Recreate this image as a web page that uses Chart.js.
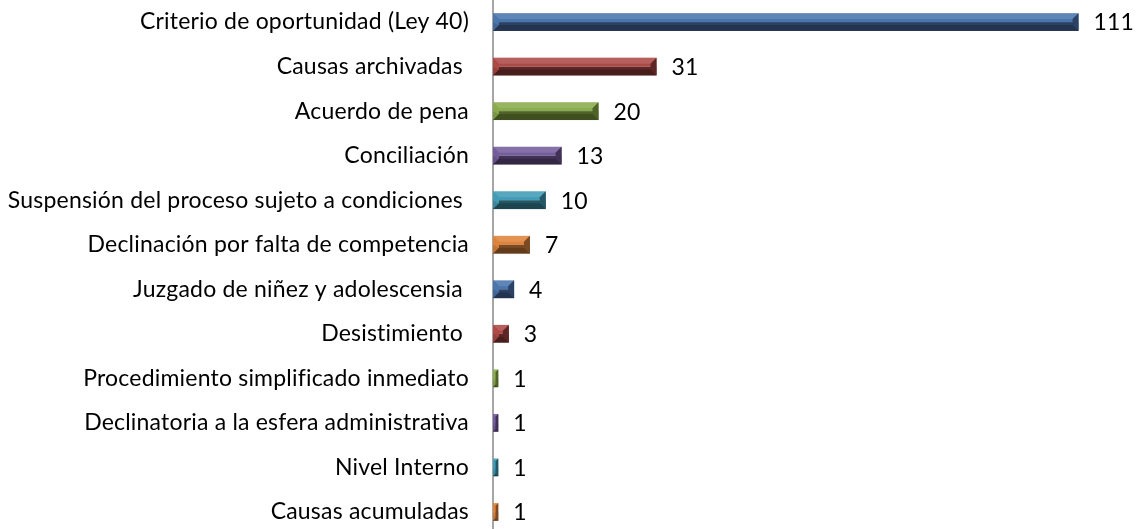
<!DOCTYPE html>
<html>
<head>
<meta charset="utf-8">
<script src="https://cdn.jsdelivr.net/npm/chart.js@4"></script>
<style>
  html, body { margin: 0; padding: 0; background: #fff; overflow: hidden; }
  #wrap { width: 1140px; height: 562px; position: relative; margin-top: -14px; }
</style>
</head>
<body>
<div id="wrap"><canvas id="chart"></canvas></div>
<script>
// categories, top to bottom
var categories = [
  "Criterio de oportunidad (Ley 40)",
  "Causas archivadas ",
  "Acuerdo de pena",
  "Conciliación",
  "Suspensión del proceso sujeto a condiciones ",
  "Declinación por falta de competencia",
  "Juzgado de niñez y adolescensia ",
  "Desistimiento ",
  "Procedimiento simplificado inmediato",
  "Declinatoria a la esfera administrativa",
  "Nivel Interno",
  "Causas acumuladas"
];
var counts = [111, 31, 20, 13, 10, 7, 4, 3, 1, 1, 1, 1];

// office palette, repeating: [top face, bottom face]
var topColors = ["#4A76AE", "#AE4946", "#8AAB4D", "#755D9B", "#409DB5", "#DF833B"];
var lowColors = ["#2C4264", "#5B2625", "#4F6328", "#403155", "#235765", "#7B4A22"];

var FONT = "Lato, 'Open Sans', sans-serif";
var FSIZE = 23;

function pick(arr, i){ return arr[i % arr.length]; }

// a tiny letter spacing keeps Lato from using its ti/fi ligatures
var spacingPlugin = {
  id: "spacing",
  beforeDraw: function(chart){
    chart.ctx.letterSpacing = "0.2px";
  }
};

// paints the bevelled bars over the library's bar rectangles
var bevelPlugin = {
  id: "bevel",
  afterDatasetsDraw: function(chart){
    var ctx = chart.ctx;
    var meta = chart.getDatasetMeta(0);
    meta.data.forEach(function(bar, i){
      var p = bar.getProps(["x", "y", "base", "height"], true);
      var x0 = p.base, x1 = p.x;
      var y0 = p.y - p.height / 2, y1 = p.y + p.height / 2;
      var w = x1 - x0, h = y1 - y0;
      var b = Math.min(6, h / 3, w / 2);
      var c1 = pick(topColors, i), c2 = pick(lowColors, i);
      var mid = y0 + h / 2;
      ctx.save();
      // faces
      ctx.fillStyle = c1;
      ctx.fillRect(x0, y0, w, mid - y0);
      ctx.fillStyle = c2;
      ctx.fillRect(x0, mid, w, y1 - mid);
      // top bevel (light)
      ctx.fillStyle = "rgba(255,255,255,0.12)";
      ctx.beginPath();
      ctx.moveTo(x0, y0); ctx.lineTo(x1, y0); ctx.lineTo(x1 - b, y0 + b); ctx.lineTo(x0 + b, y0 + b);
      ctx.closePath(); ctx.fill();
      // left bevel
      ctx.fillStyle = c1;
      ctx.beginPath();
      ctx.moveTo(x0, y0); ctx.lineTo(x0 + b, y0 + b); ctx.lineTo(x0 + b, y1 - b); ctx.lineTo(x0, y1);
      ctx.closePath(); ctx.fill();
      ctx.fillStyle = "rgba(0,0,0,0.12)";
      ctx.beginPath();
      ctx.moveTo(x0, mid); ctx.lineTo(x0 + b, y1 - b); ctx.lineTo(x0, y1);
      ctx.closePath(); ctx.fill();
      // right bevel (dark)
      ctx.fillStyle = c2;
      ctx.beginPath();
      ctx.moveTo(x1, y0); ctx.lineTo(x1, y1); ctx.lineTo(x1 - b, y1 - b); ctx.lineTo(x1 - b, y0 + b);
      ctx.closePath(); ctx.fill();
      // bottom bevel (darkest)
      ctx.fillStyle = "rgba(0,0,0,0.2)";
      ctx.beginPath();
      ctx.moveTo(x0, y1); ctx.lineTo(x1, y1); ctx.lineTo(x1 - b, y1 - b); ctx.lineTo(x0 + b, y1 - b);
      ctx.closePath(); ctx.fill();
      ctx.restore();

      // value label
      ctx.save();
      ctx.fillStyle = "#000";
      ctx.font = FSIZE + "px " + FONT;
      ctx.textAlign = "left";
      ctx.textBaseline = "middle";
      ctx.fillText(String(counts[i]), x1 + 15, p.y + 1);
      ctx.restore();
    });
  }
};

new Chart(document.getElementById("chart"), {
  type: "bar",
  data: {
    labels: categories,
    datasets: [{
      data: counts,
      backgroundColor: "rgba(0,0,0,0)",
      borderWidth: 0,
      categoryPercentage: 1,
      barPercentage: 0.4
    }]
  },
  options: {
    indexAxis: "y",
    responsive: true,
    maintainAspectRatio: false,
    animation: false,
    layout: { padding: { top: 0, bottom: 0, left: 0, right: 14 } },
    plugins: { legend: { display: false }, tooltip: { enabled: false } },
    scales: {
      x: {
        min: 0, max: 120,
        display: false,
        grid: { display: false }
      },
      y: {
        grid: { display: false, drawTicks: true, tickLength: 24 },
        border: { display: true, color: "#A6A6A6", width: 2 },
        afterFit: function(scale){ scale.width = 493; },
        ticks: {
          color: "#000",
          padding: 0,
          autoSkip: false,
          font: { family: FONT, size: FSIZE, lineHeight: 1.2 }
        }
      }
    }
  },
  plugins: [spacingPlugin, bevelPlugin]
});
</script>
</body>
</html>
